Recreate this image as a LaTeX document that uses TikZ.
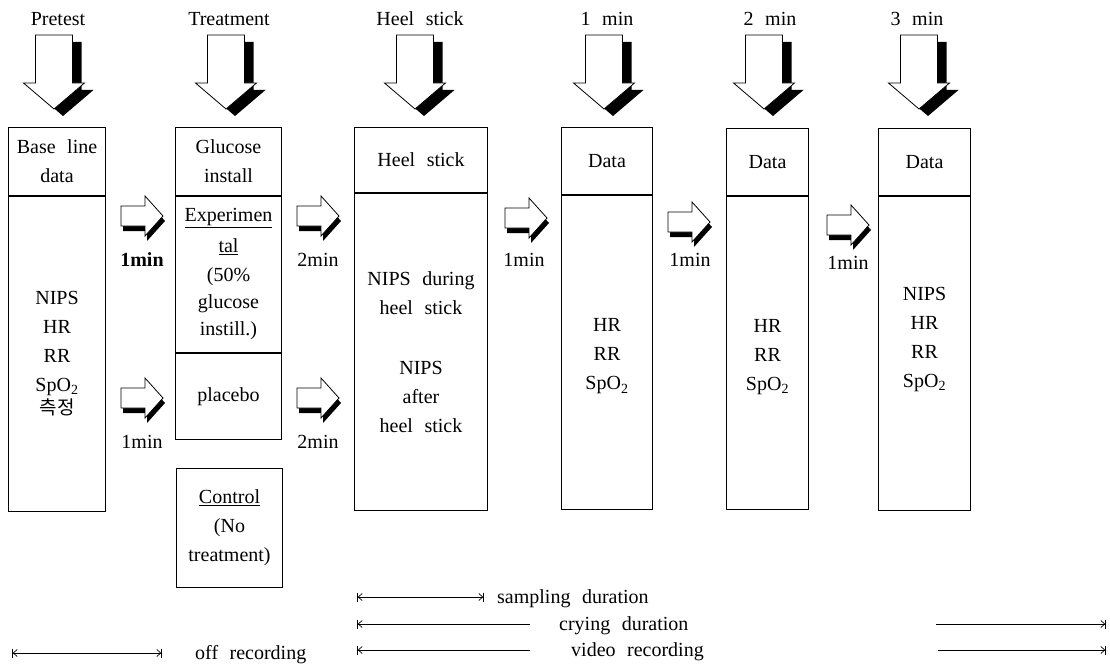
\documentclass[tikz,border=0pt]{standalone}
\usepackage{fontspec}
\setmainfont{Liberation Serif}[WordSpace=2.3]
\newfontfamily\krfont{Noto Sans CJK KR}
\usetikzlibrary{arrows.meta}
\usetikzlibrary{positioning}
\newcommand{\diagfont}{\fontsize{20}{29}\selectfont}

\tikzset{
  cell/.style={draw, line width=1pt, inner sep=0pt, align=center, font=\diagfont},
  lbl/.style={inner sep=0pt, font=\diagfont, anchor=base},
  tipbar/.tip={Bar[width=9pt]},
  tipbarb/.tip={Straight Barb[length=4pt,width=7pt]},
  dimline/.style={line width=0.7pt, {tipbar[]tipbarb[]}-{tipbarb[]tipbar[]}},
  startbar/.style={line width=0.7pt, {tipbar[]tipbarb[]}-},
  endbar/.style={line width=0.7pt, -{tipbarb[]tipbar[]}},
  droparrow/.pic={
    \fill[black] (-9.5,7) -- (27.5,7) -- (27.5,55) -- (39.5,55) -- (9,81) -- (-21.5,55) -- (-9.5,55) -- cycle;
    \filldraw[fill=white, draw=black, line width=0.8pt]
      (-18.5,0) -- (18.5,0) -- (18.5,48) -- (30.5,48) -- (0,74) -- (-30.5,48) -- (-18.5,48) -- cycle;
  },
  stepright/.pic={
    \fill[black] (2,-5) -- (26,-5) -- (26,-15) -- (44,5) -- (26,25) -- (26,15) -- (2,15) -- cycle;
    \filldraw[fill=white, draw=black, line width=0.8pt]
      (0,-10) -- (24,-10) -- (24,-20) -- (42,0) -- (24,20) -- (24,10) -- (0,10) -- cycle;
  }
}

\begin{document}
\begin{tikzpicture}[x=1pt, y=-1pt]
  \useasboundingbox (0,0) rectangle (1110,666);

  % stage titles and drop arrows
  \node[lbl] (pretest) at (58,26) {Pretest};
  \node[lbl] (treat) at (229,26) {Treatment};
  \node[lbl] (heel) at (420,26) {Heel stick};
  \node[lbl] (onemin) at (607,26) {1 min};
  \node[lbl] (twomin) at (770,26) {2 min};
  \node[lbl] (threemin) at (917,26) {3 min};

  \pic (pretestarrow) at (54,35) {droparrow};
  \pic (treatarrow) at (226,35) {droparrow};
  \pic (heelarrow) at (415,35) {droparrow};
  \pic (onearrow) at (604,35) {droparrow};
  \pic (twoarrow) at (764,35) {droparrow};
  \pic (threearrow) at (919,35) {droparrow};

  % base line column
  \node[cell, minimum width=97pt, minimum height=68pt, anchor=north west] (basehead) at (8,127) {Base line\\data};
  \node[cell, minimum width=97pt, minimum height=315pt, anchor=north] (basebody) at (basehead.south)
    {NIPS\\HR\\RR\\SpO\textsubscript{2}\\[-6pt]{\krfont\fontsize{19}{20}\selectfont 측정}};

  % treatment column
  \node[cell, minimum width=106pt, minimum height=68pt, anchor=north west] (treathead) at (175,127) {Glucose\\install};
  \node[cell, minimum width=106pt, minimum height=156pt, anchor=north] (expbody) at (treathead.south)
    {\underline{Experimen}\\[2pt]\underline{tal}\\(50\%\\[-2pt]glucose\\[-2pt]instill.)};
  \node[cell, minimum width=106pt, minimum height=86pt, anchor=north] (placebo) at (expbody.south) {placebo};
  \node[cell, minimum width=106pt, minimum height=119pt, anchor=north west] (control) at (176,468)
    {\underline{Control}\\(No\\treatment)};

  % heel stick column
  \node[cell, minimum width=133pt, minimum height=65pt, anchor=north west] (heelhead) at (354,127) {Heel stick};
  \node[cell, minimum width=133pt, minimum height=317pt, anchor=north] (heelbody) at (heelhead.south)
    {NIPS during\\heel stick\\[31pt]NIPS\\after\\heel stick};

  % data columns
  \node[cell, minimum width=91pt, minimum height=67pt, anchor=north west] (dataonehead) at (561,127) {Data};
  \node[cell, minimum width=91pt, minimum height=314pt, anchor=north] (dataonebody) at (dataonehead.south) {};
  \node[lbl, anchor=center, align=center] (dataonetext) at ([yshift=-4pt]dataonebody.center)
    {HR\\RR\\SpO\textsubscript{2}};

  \node[cell, minimum width=82pt, minimum height=67pt, anchor=north west] (datatwohead) at (726,128) {Data};
  \node[cell, minimum width=82pt, minimum height=313pt, anchor=north] (datatwobody) at (datatwohead.south) {};
  \node[lbl, anchor=center, align=center] (datatwotext) at ([yshift=-4pt]datatwobody.center)
    {HR\\RR\\SpO\textsubscript{2}};

  \node[cell, minimum width=92pt, minimum height=67pt, anchor=north west] (datathreehead) at (878,128) {Data};
  \node[cell, minimum width=92pt, minimum height=314pt, anchor=north] (datathreebody) at (datathreehead.south) {};
  \node[lbl, anchor=center, align=center] (datathreetext) at ([yshift=14pt]datathreebody.center)
    {NIPS\\HR\\RR\\SpO\textsubscript{2}};

  % step arrows between columns
  \pic (stepa) at (121,216) {stepright};
  \node[lbl, font=\diagfont\bfseries] (stepalbl) at (142,266) {1min};
  \pic (stepb) at (121,398) {stepright};
  \node[lbl] (stepblbl) at (142,448) {1min};
  \pic (stepc) at (297,216) {stepright};
  \node[lbl] (stepclbl) at (318,266) {2min};
  \pic (stepd) at (297,398) {stepright};
  \node[lbl] (stepdlbl) at (318,448) {2min};
  \pic (stepe) at (505,218) {stepright};
  \node[lbl] (stepelbl) at (524,266) {1min};
  \pic (stepf) at (668,222) {stepright};
  \node[lbl] (stepflbl) at (690,266) {1min};
  \pic (stepg) at (827,225) {stepright};
  \node[lbl] (stepglbl) at (848,269) {1min};

  % duration lines
  \coordinate (samps) at (357,597);
  \coordinate (sampe) at (484,597);
  \draw[dimline] (samps) -- (sampe);
  \node[lbl, anchor=base west] (samplbl) at (497,603) {sampling duration};

  \coordinate (crys) at (357,624);
  \coordinate (crym) at (530,624);
  \coordinate (cryr) at (936,624);
  \coordinate (crye) at (1106,624);
  \draw[startbar] (crys) -- (crym);
  \draw[endbar] (cryr) -- (crye);
  \node[lbl, anchor=base west] (crylbl) at (559,630) {crying duration};

  \coordinate (vids) at (357,650);
  \coordinate (vidm) at (530,650);
  \coordinate (vidr) at (938,650);
  \coordinate (vide) at (1106,650);
  \draw[startbar] (vids) -- (vidm);
  \draw[endbar] (vidr) -- (vide);
  \node[lbl, anchor=base west] (vidlbl) at (571,656) {video recording};

  \coordinate (offs) at (12,653);
  \coordinate (offe) at (162,653);
  \draw[dimline] (offs) -- (offe);
  \node[lbl, anchor=base west] (offlbl) at (195,659) {off recording};
\end{tikzpicture}
\end{document}
